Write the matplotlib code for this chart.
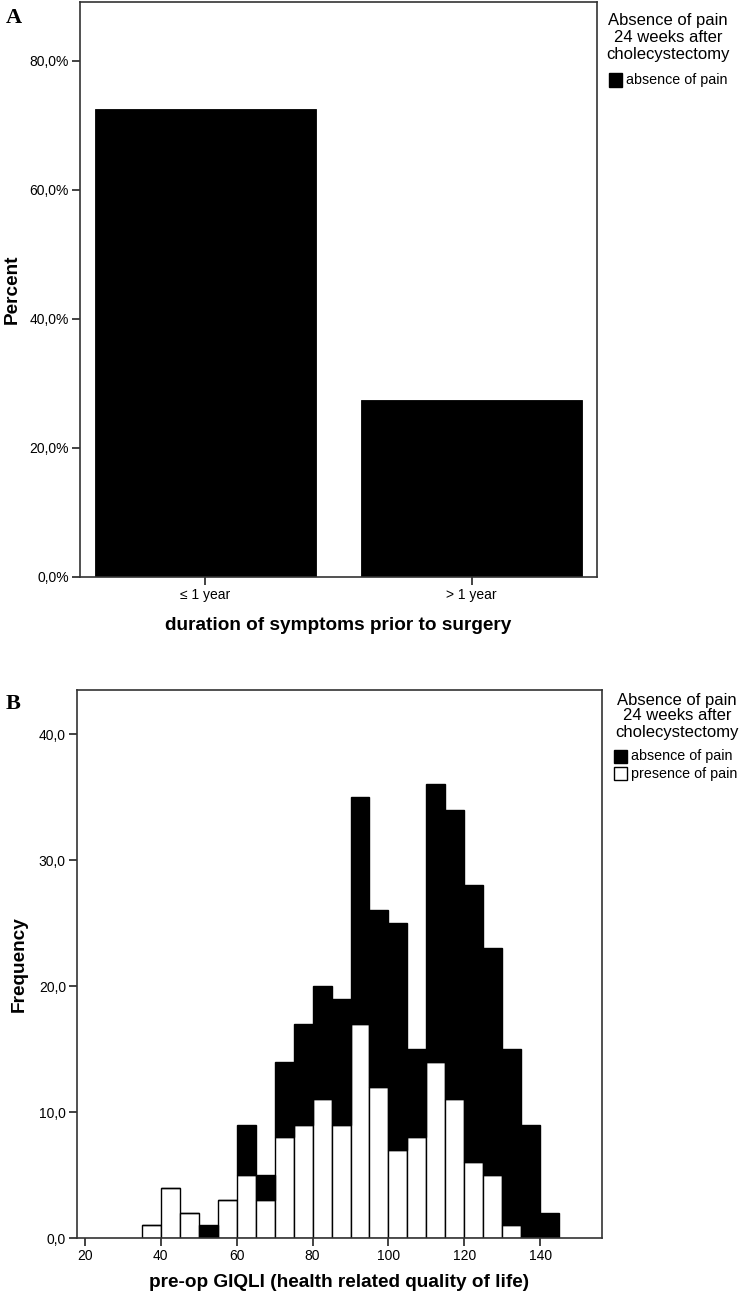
import matplotlib
matplotlib.use("Agg")
import matplotlib.pyplot as plt
from matplotlib.patches import Rectangle

# ---------------- data ----------------
# Panel A
duration_categories = ["\u2264 1 year", "> 1 year"]
absence_percent = [72.5, 27.5]
a_yticks = [0, 20, 40, 60, 80]
a_yticklabels = ["0,0%", "20,0%", "40,0%", "60,0%", "80,0%"]

# Panel B (histogram of pre-op GIQLI, bins of width 5)
bin_left = [35, 40, 45, 50, 55, 60, 65, 70, 75, 80, 85, 90, 95, 100,
            105, 110, 115, 120, 125, 130, 135, 140]
presence_counts = [1, 4, 2, 0, 3, 5, 3, 8, 9, 11, 9, 17, 12, 7,
                   8, 14, 11, 6, 5, 1, 0, 0]
absence_counts = [0, 0, 0, 1, 0, 4, 2, 6, 8, 9, 10, 18, 14, 18,
                  7, 22, 23, 22, 18, 14, 9, 2]
bin_width = 5
b_xticks = [20, 40, 60, 80, 100, 120, 140]
b_yticks = [0, 10, 20, 30, 40]
b_yticklabels = ["0,0", "10,0", "20,0", "30,0", "40,0"]

legend_title_lines = ["Absence of pain", "24 weeks after", "cholecystectomy"]
legend_labels = ["absence of pain", "presence of pain"]
legend_colors = ["black", "white"]

# ---------------- figure ----------------
W, H = 742, 1299
plt.rcParams['font.family'] = ['Liberation Sans', 'DejaVu Sans']
fig = plt.figure(figsize=(W / 100, H / 100), dpi=100)


def rect(l, t, r, b):
    return [l / W, 1 - b / H, (r - l) / W, (b - t) / H]


def fx(x):
    return x / W


def fy(y):
    return 1 - y / H


tick_fs = 10
lab_fs = 13.7


def style_axes(ax):
    for s in ax.spines.values():
        s.set_linewidth(1.2)
        s.set_color("#333333")
    ax.tick_params(length=6, width=1.2, pad=2, colors="#222222", labelcolor="black")


def manual_legend(title_cx, title_ys, patch_x, entry_ys, n_entries):
    for line, y in zip(legend_title_lines, title_ys):
        fig.text(fx(title_cx), fy(y), line, ha="center", va="center", fontsize=12)
    for i in range(n_entries):
        y = entry_ys[i]
        fig.patches.append(Rectangle((fx(patch_x), fy(y + 6.5)), 13 / W, 13 / H,
                                     transform=fig.transFigure, facecolor=legend_colors[i],
                                     edgecolor="black", linewidth=1.0))
        fig.text(fx(patch_x + 17), fy(y), legend_labels[i], ha="left", va="center", fontsize=10.3)


# ---- Panel A ----
axA = fig.add_axes(rect(80, 2, 597, 577))
xA = list(range(len(duration_categories)))
axA.bar(xA, absence_percent, width=0.83, color="black", edgecolor="black", linewidth=0.6)
axA.set_xlim(-0.47, 1.47)
axA.set_ylim(0, 89.1)
axA.set_xticks(xA)
axA.set_xticklabels(duration_categories, fontsize=tick_fs)
axA.set_yticks(a_yticks)
axA.set_yticklabels(a_yticklabels, fontsize=tick_fs)
axA.set_xlabel("duration of symptoms prior to surgery", fontsize=lab_fs, fontweight="bold", labelpad=11)
axA.set_ylabel("Percent", fontsize=lab_fs, fontweight="bold", labelpad=6)
style_axes(axA)
manual_legend(668, [21, 37, 54], 609, [80], 1)

# ---- Panel B ----
axB = fig.add_axes(rect(77, 690, 602, 1238))
axB.bar(bin_left, presence_counts, width=bin_width, align="edge",
        color="white", edgecolor="black", linewidth=1.0)
axB.bar(bin_left, absence_counts, bottom=presence_counts, width=bin_width, align="edge",
        color="black", edgecolor="black", linewidth=1.0)
axB.set_xlim(17.9, 156.3)
axB.set_ylim(0, 43.5)
axB.set_xticks(b_xticks)
axB.set_xticklabels([str(v) for v in b_xticks], fontsize=tick_fs)
axB.set_yticks(b_yticks)
axB.set_yticklabels(b_yticklabels, fontsize=tick_fs)
axB.set_xlabel("pre-op GIQLI (health related quality of life)", fontsize=lab_fs, fontweight="bold", labelpad=8)
axB.set_ylabel("Frequency", fontsize=lab_fs, fontweight="bold", labelpad=8)
style_axes(axB)
manual_legend(677, [700, 716, 733], 614, [756, 774], 2)

# panel letters
fig.text(fx(6), fy(18), "A", fontsize=16, fontweight="bold", family="Liberation Serif", va="center")
fig.text(fx(6), fy(704), "B", fontsize=16, fontweight="bold", family="Liberation Serif", va="center")

fig.savefig("out.png", dpi=100)
